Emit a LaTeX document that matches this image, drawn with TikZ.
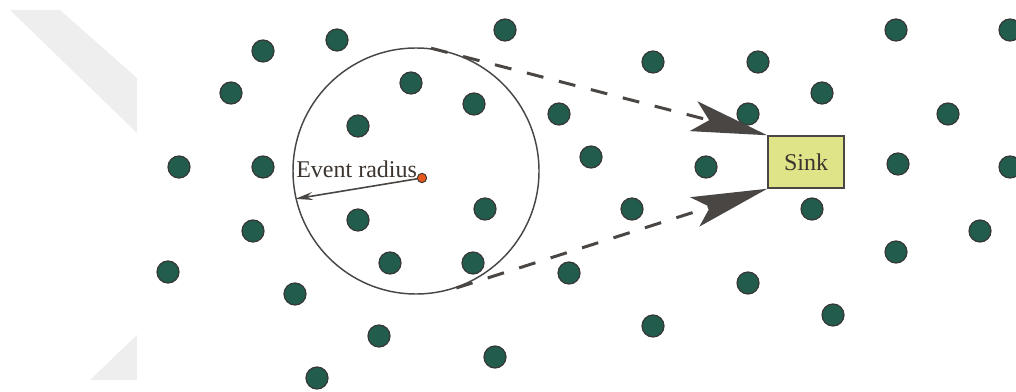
\documentclass[tikz,border=0pt]{standalone}
\usepackage{fontspec}
\setmainfont{Liberation Serif}
\usetikzlibrary{arrows.meta}
\definecolor{sensorgreen}{RGB}{33,92,77}
\definecolor{sensoredge}{RGB}{55,55,55}
\definecolor{linegray}{RGB}{74,70,68}
\definecolor{sinkfill}{RGB}{224,228,137}
\definecolor{eventred}{RGB}{232,88,30}
\definecolor{textgray}{RGB}{60,52,46}
\definecolor{bandgray}{RGB}{238,238,238}

\begin{document}
\begin{tikzpicture}[x=0.75pt,y=-0.75pt,
                    sensor/.style={circle,fill=sensorgreen,draw=sensoredge,
                                   line width=0.9pt,inner sep=0pt,minimum size=16.5pt},
                    region/.style={circle,draw=linegray,line width=1.1pt,
                                   inner sep=0pt,minimum size=184.5pt},
                    source/.style={circle,fill=eventred,draw=sensoredge,
                                   line width=0.7pt,inner sep=0pt,minimum size=7pt},
                    sinkbox/.style={rectangle,fill=sinkfill,draw=linegray,line width=1.1pt,
                                    minimum width=57pt,minimum height=39pt,inner sep=0pt,
                                    text=textgray,font=\fontsize{18pt}{20pt}\selectfont},
                    tag/.style={inner sep=0pt,text=textgray,
                                font=\fontsize{18pt}{20pt}\selectfont},
                    flow/.style={draw=linegray,line width=2.25pt,
                                 dash pattern=on 12.75pt off 12pt,
                                 -{Stealth[length=57pt,width=23pt,inset=12pt]}},
                    radiusline/.style={draw=linegray,line width=1.2pt,
                                       -{Stealth[length=13pt,width=6pt]}}]
  \useasboundingbox (0,0) rectangle (1016,392);
  % faint band at the left edge
  \fill[bandgray] (10,10) -- (60,10) -- (137,78) -- (137,133) -- cycle;
  \fill[bandgray] (90,380) -- (137,335) -- (137,380) -- cycle;
  % sensor nodes
  \foreach \x/\y [count=\i] in {263/51,337/40,505/30,896/30,1010/30,
                                231/93,411/83,653/62,758/62,822/93,
                                474/104,559/114,748/114,948/114,358/126,
                                179/167,263/167,591/157,706/167,898/164,1010/167,
                                485/209,358/220,632/209,812/209,253/231,980/231,
                                390/263,473/263,896/252,168/272,569/273,748/283,
                                295/294,379/336,653/326,833/315,495/357,317/378}
    \node[sensor] (s\i) at (\x,\y) {};
  % event area
  \node[region] (event) at (416,171) {};
  \node[tag,anchor=base west] (radiuslabel) at (296,177) {Event radius};
  \node[source] (src) at (422,178) {};
  \draw[radiusline] (src) -- (event.193);
  % sink and reports
  \node[sinkbox] (sink) at (806,162) {Sink};
  \draw[flow] (event.83) -- (sink.north west);
  \draw[flow] (event.-71) -- (sink.south west);
\end{tikzpicture}
\end{document}
